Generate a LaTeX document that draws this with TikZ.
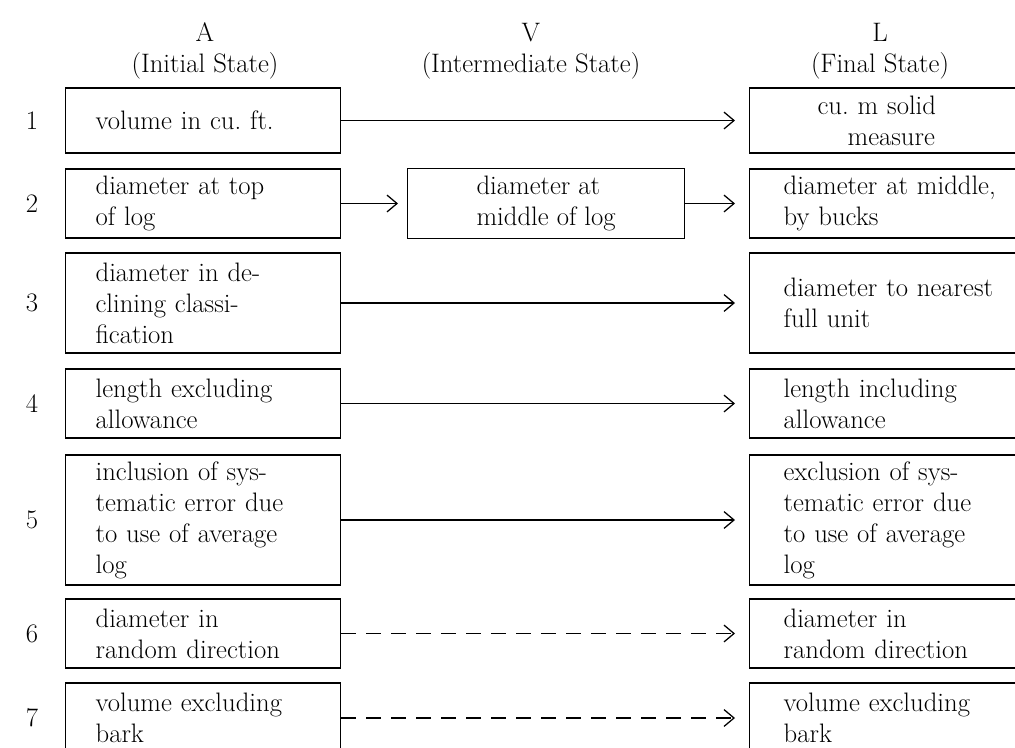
\documentclass[tikz,border=0pt]{standalone}
\usetikzlibrary{arrows.meta}

\begin{document}
\begin{tikzpicture}[x=0.25mm,y=-0.25mm,>={Straight Barb[length=2.5mm,width=4.2mm]},
    font=\fontsize{19}{22}\selectfont,
    state/.style={draw,line width=0.9pt,rectangle,align=left,anchor=west,minimum height=#1*0.25mm},
    astate/.style={state=#1,minimum width=68.75mm,inner xsep=7.5mm,text width=53.75mm},
    vstate/.style={state=#1,minimum width=69.25mm},
    lstate/.style={state=#1,minimum width=75mm,inner xsep=8.5mm,text width=58mm},
    link/.style={->,line width=0.9pt,shorten >=3.5mm},
    guess/.style={link,dash pattern=on 3.75mm off 2.5mm}]
    \clip (0,0) rectangle (1015,748);
    % column heads
    \node[align=center] (hA) at (205,51) {A\\(Initial State)};
    \node[align=center] (hV) at (531,51) {V\\(Intermediate State)};
    \node[align=center] (hL) at (880,51) {L\\(Final State)};
    % row numbers
    \foreach \i/\y in {1/120.5,2/203.5,3/303,4/403.5,5/520,6/633.5,7/718}
        \node (n\i) at (32,\y) {\i};
    % initial state
    \node[astate=65] (a1) at (65,120.5) {volume in cu.\ ft.};
    \node[astate=69] (a2) at (65,203.5) {diameter at top\\of log};
    \node[astate=100] (a3) at (65,303) {diameter in de-\\clining classi-\\fication};
    \node[astate=69] (a4) at (65,403.5) {length excluding\\allowance};
    \node[astate=130] (a5) at (65,520) {inclusion of sys-\\tematic error due\\to use of average\\log};
    \node[astate=69] (a6) at (65,633.5) {diameter in\\random direction};
    \node[astate=70] (a7) at (65,718) {volume excluding\\bark};
    % intermediate state
    \node[vstate=70] (v2) at (407,203.5) {diameter at\\middle of log};
    % final state
    \node[lstate=65] (l1) at (749,120.5) {\hspace*{8.5mm}cu.\ m solid\\\hspace*{16mm}measure};
    \node[lstate=69] (l2) at (749,203.5) {diameter at middle,\\by bucks};
    \node[lstate=100] (l3) at (749,303) {diameter to nearest\\full unit};
    \node[lstate=69] (l4) at (749,403.5) {length including\\allowance};
    \node[lstate=130] (l5) at (749,520) {exclusion of sys-\\tematic error due\\to use of average\\log};
    \node[lstate=69] (l6) at (749,633.5) {diameter in\\random direction};
    \node[lstate=70] (l7) at (749,718) {volume excluding\\bark};
    % connectors
    \foreach \i in {1,3,4,5} {\draw[link] (a\i.east) -- (l\i.west);}
    \foreach \i in {6,7} {\draw[guess] (a\i.east) -- (l\i.west);}
    \draw[link,shorten >=2.25mm] (a2.east) -- (v2.west);
    \draw[link] (v2.east) -- (l2.west);
\end{tikzpicture}
\end{document}
